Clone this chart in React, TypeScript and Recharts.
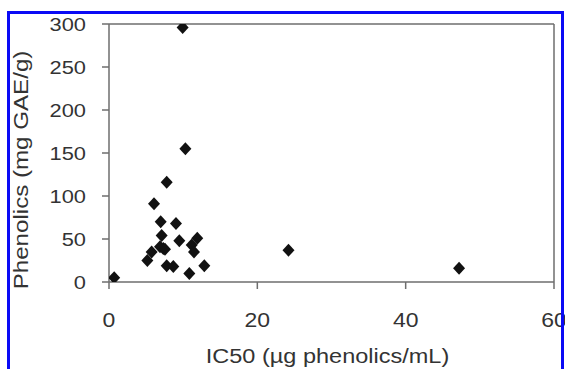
import React from 'react';
import { ScatterChart, Scatter, XAxis, YAxis, ReferenceLine, Label } from 'recharts';

const ic50Values = [0.7, 6.07, 6.97, 9.03, 7.1, 9.48, 11.9, 11.15, 11.46, 7.32, 5.75, 5.17, 6.88, 7.55, 7.78, 8.67, 10.83, 12.85, 7.78, 10.3, 9.93, 24.2, 47.2];
const phenolicsValues = [5, 91, 70, 68, 54, 48, 51, 43, 35, 39, 35, 25, 41, 38, 19, 18, 10, 19, 116, 155, 296, 37, 16];
const xTicks = [0, 20, 40, 60];
const yTicks = [0, 50, 100, 150, 200, 250, 300];
const xTitle = 'IC50 (µg phenolics/mL)';
const yTitle = 'Phenolics (mg GAE/g)';

const data = ic50Values.map((x, i) => ({ x, y: phenolicsValues[i] }));

const FONT = '"Liberation Sans", Arial, sans-serif';
const TEXT = '#333';
const AXIS = '#6e6e6e';

const Diamond = (props: any) => {
  const { cx, cy } = props;
  if (cx == null || cy == null) return null;
  const w = 6, h = 6.5;
  return (
    <polygon
      points={`${cx},${cy - h} ${cx + w},${cy} ${cx},${cy + h} ${cx - w},${cy}`}
      fill="#111"
    />
  );
};

const YTick = (props: any) => {
  const { x, y, payload } = props;
  return (
    <g transform={`translate(${x},${y}) scale(1.15,1)`}>
      <text x={0} y={0} dy="0.36em" textAnchor="end" fill={TEXT} fontSize={19} fontFamily={FONT}>
        {payload.value}
      </text>
    </g>
  );
};

const XTick = (props: any) => {
  const { x, y, payload } = props;
  return (
    <g transform={`translate(${x},${y}) scale(1.15,1)`}>
      <text x={0} y={0} dy="0.72em" textAnchor="middle" fill={TEXT} fontSize={20} fontFamily={FONT}>
        {payload.value}
      </text>
    </g>
  );
};

const YTitle = (props: any) => {
  const vb = props.viewBox || {};
  const cy = vb.y + vb.height / 2 + 17;
  return (
    <text
      transform={`translate(28,${cy}) rotate(-90) scale(1.15,1)`}
      textAnchor="middle"
      fill={TEXT}
      fontSize={21}
      fontFamily={FONT}
    >
      {yTitle}
    </text>
  );
};

const XTitle = (props: any) => {
  const vb = props.viewBox || {};
  const cx = vb.x + vb.width / 2 - 4;
  const y = vb.y + 81;
  return (
    <text
      transform={`translate(${cx},${y}) scale(1.12,1)`}
      textAnchor="middle"
      fill={TEXT}
      fontSize={21}
      fontFamily={FONT}
    >
      {xTitle}
    </text>
  );
};

export default function App() {
  return (
    <div style={{ position: 'absolute', left: 0, top: 0, width: 565, height: 369, overflow: 'hidden', background: '#fff' }}>
      <ScatterChart width={565} height={369} margin={{ top: 24, right: 11, bottom: 0, left: 0 }}>
        <XAxis
          type="number"
          dataKey="x"
          domain={[0, 60]}
          ticks={xTicks}
          allowDataOverflow
          height={87}
          stroke={AXIS}
          strokeWidth={1.5}
          tickSize={7}
          tickMargin={24}
          tick={<XTick />}
          tickLine={{ stroke: AXIS, strokeWidth: 1.5 }}
        >
          <Label content={<XTitle />} />
        </XAxis>
        <YAxis
          type="number"
          dataKey="y"
          domain={[0, 300]}
          ticks={yTicks}
          allowDataOverflow
          width={109}
          stroke={AXIS}
          strokeWidth={1.5}
          tickSize={7}
          tickMargin={16}
          tick={<YTick />}
          tickLine={{ stroke: AXIS, strokeWidth: 1.5 }}
        >
          <Label content={<YTitle />} />
        </YAxis>
        <ReferenceLine y={300} stroke={AXIS} strokeWidth={1.5} />
        <ReferenceLine x={60} stroke={AXIS} strokeWidth={1.5} />
        <Scatter data={data} shape={<Diamond />} isAnimationActive={false} />
      </ScatterChart>
      <div
        style={{
          position: 'absolute',
          left: 7,
          top: 11,
          width: 557,
          height: 370,
          boxSizing: 'border-box',
          border: '3px solid #0a0af5',
          borderBottom: 'none',
          pointerEvents: 'none',
        }}
      />
    </div>
  );
}
